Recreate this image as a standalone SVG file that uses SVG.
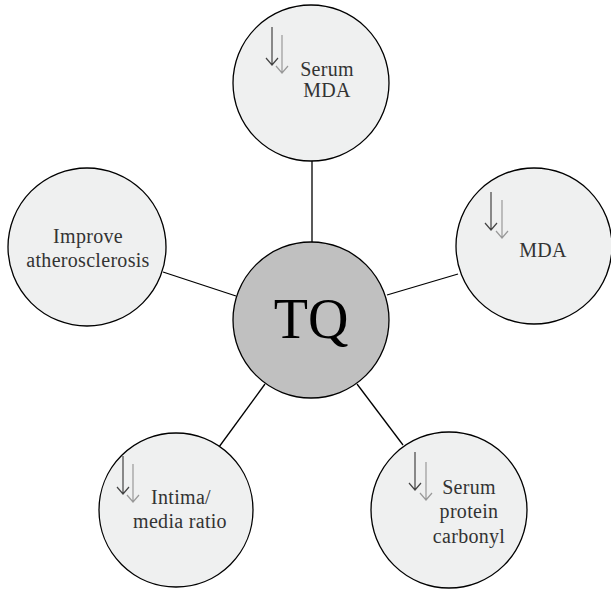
<svg xmlns="http://www.w3.org/2000/svg" width="611" height="590" viewBox="0 0 611 590">
<style>
.node{fill:#eff0f0;stroke:#000;stroke-width:1.3}
.hub{fill:#c0c0c0;stroke:#000;stroke-width:1.3}
.conn line{stroke:#000;stroke-width:1.3}
.lbl{font-family:"Liberation Serif","Times New Roman",serif;font-size:20px;letter-spacing:0.3px;fill:#333;text-anchor:middle}
.tq{font-family:"Liberation Serif","Times New Roman",serif;font-size:56px;fill:#000;text-anchor:middle}
.a1{stroke:#444;stroke-width:1.2;fill:none}
.a2{stroke:#999;stroke-width:1.2;fill:none}
</style>
<defs>
<g id="dn1"><path class="a1" d="M0 0V38M-6 31L0 38L6 31"/></g>
<g id="dn2"><path class="a2" d="M0 0V38M-6 31L0 38L6 31"/></g>
</defs>
<g id="connectors" class="conn">
<line x1="312" y1="160" x2="312" y2="242"/>
<line x1="387" y1="295" x2="458" y2="274"/>
<line x1="163" y1="272" x2="236" y2="296"/>
<line x1="219" y1="447" x2="265" y2="384"/>
<line x1="403" y1="445" x2="357" y2="384"/>
</g>
<g id="tq">
<circle class="hub" cx="311" cy="320" r="78"/>
<text class="tq" x="311" y="338">TQ</text>
</g>
<g id="serum-mda">
<circle class="node" cx="311" cy="83" r="78"/>
<use href="#dn1" x="272" y="27"/>
<use href="#dn2" x="282" y="35"/>
<text class="lbl" x="327" y="76">Serum</text>
<text class="lbl" x="327" y="97">MDA</text>
</g>
<g id="mda">
<circle class="node" cx="534" cy="246" r="78"/>
<use href="#dn1" x="491" y="192"/>
<use href="#dn2" x="502" y="200"/>
<text class="lbl" x="543" y="257">MDA</text>
</g>
<g id="improve-atherosclerosis">
<circle class="node" cx="87" cy="247" r="79"/>
<text class="lbl" x="88" y="243">Improve</text>
<text class="lbl" x="88" y="267">atherosclerosis</text>
</g>
<g id="intima-media">
<circle class="node" cx="176" cy="510" r="77"/>
<use href="#dn1" x="123" y="456"/>
<use href="#dn2" x="133" y="464"/>
<text class="lbl" x="181" y="504">Intima/</text>
<text class="lbl" x="180" y="528">media ratio</text>
</g>
<g id="serum-protein-carbonyl">
<circle class="node" cx="449" cy="510" r="78"/>
<use href="#dn1" x="415" y="452"/>
<use href="#dn2" x="426" y="462"/>
<text class="lbl" x="469" y="494">Serum</text>
<text class="lbl" x="469" y="518">protein</text>
<text class="lbl" x="469" y="543">carbonyl</text>
</g>
</svg>
